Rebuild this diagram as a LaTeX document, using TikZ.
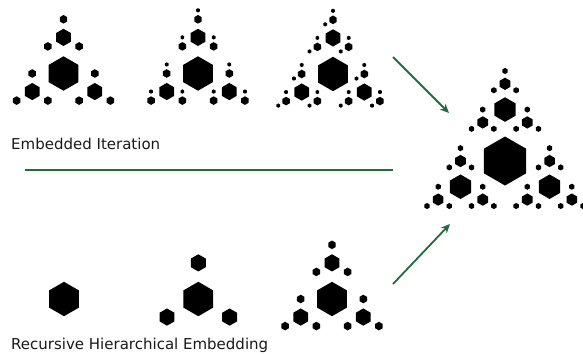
\documentclass[tikz,border=0pt]{standalone}
\usepackage{fontspec}
\setmainfont{DejaVu Sans}
\usetikzlibrary{arrows.meta}
\definecolor{arrowgreen}{RGB}{30,108,64}

% one pointy-topped hexagon with circumradius #3 centred at (#1,#2)
\newcommand\hexat[3]{%
  \fill[hexfill] (#1,#2) +(90:#3) -- +(150:#3) -- +(210:#3) -- +(270:#3)
    -- +(330:#3) -- +(30:#3) -- cycle;}

% #1 levels below this one, #2 x, #3 y, #4 radius,
% #5 child directions used on the deepest level
\newcommand\hextree[5]{%
  \hexat{#2}{#3}{#4}%
  \ifnum#1>0
    \ifnum#1=1 \def\hexangles{#5}\else\def\hexangles{90,210,330}\fi
    \foreach \a in \hexangles {
      \pgfmathsetmacro\cx{#2+2.1*#4*cos(\a)}
      \pgfmathsetmacro\cy{#3-2.1*#4*sin(\a)}
      \pgfmathsetmacro\cr{#4/2}
      \pgfmathtruncatemacro\cd{#1-1}
      \edef\next{\noexpand\hextree{\cd}{\cx}{\cy}{\cr}{#5}}
      \next
    }%
  \fi}

\begin{document}
\begin{tikzpicture}[x=1pt,y=-1pt,
  hexfill/.style={fill=black},
  flow/.style={draw=arrowgreen,line width=1.8pt},
  flowarrow/.style={flow,-{Stealth[length=9pt,width=8pt]}},
  titletext/.style={anchor=base west,inner sep=0pt,
    font=\fontsize{15}{18}\selectfont,text=black!90}]
\useasboundingbox (0,0) rectangle (583,354);

% embedded iteration
\hextree{2}{63.5}{73.5}{17.2}{90,210,330}
\hextree{3}{198}{73.5}{17.2}{90}
\hextree{3}{333}{74}{17.2}{90,210}

% result
\hextree{3}{505}{161}{24.5}{90,210,330}

% recursive hierarchical embedding
\hextree{0}{64}{299}{17.2}{}
\hextree{1}{198.3}{299}{17.2}{90,210,330}
\hextree{2}{332}{299}{17.2}{90,210,330}

\node[titletext] (embedtitle) at (11,149) {Embedded Iteration};
\node[titletext] (recurtitle) at (11,349) {Recursive Hierarchical Embedding};

\coordinate (divL) at (25,170);
\coordinate (divR) at (393,170);
\draw[flow] (divL) -- (divR);

\coordinate (upfrom) at (393,57);
\coordinate (upto) at (449,113);
\draw[flowarrow] (upfrom) -- (upto);

\coordinate (lowfrom) at (393,284);
\coordinate (lowto) at (450,224);
\draw[flowarrow] (lowfrom) -- (lowto);
\end{tikzpicture}
\end{document}
